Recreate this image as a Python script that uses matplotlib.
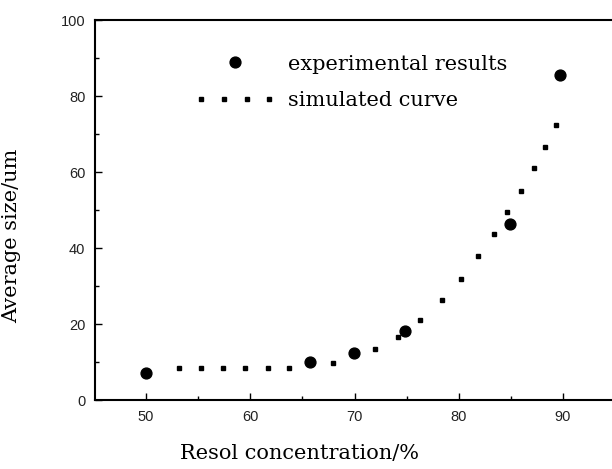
import matplotlib.pyplot as plt
from matplotlib.lines import Line2D
from matplotlib.legend_handler import HandlerLine2D
from matplotlib.ticker import MultipleLocator

# experimental points
exp_x = [50, 65.7, 69.9, 74.8, 84.9, 89.7]
exp_y = [7.0, 10.1, 12.3, 18.2, 46.3, 85.5]

# simulated curve, drawn as separate dots
sim_x = [53.2, 55.3, 57.4, 59.5, 61.7, 63.7, 67.9, 72.0, 74.2, 76.3, 78.4,
         80.2, 81.8, 83.4, 84.6, 86.0, 87.2, 88.3, 89.3]
sim_y = [8.3, 8.3, 8.3, 8.3, 8.3, 8.3, 9.8, 13.4, 16.7, 21.0, 26.3,
         31.8, 37.9, 43.6, 49.4, 55.0, 61.0, 66.7, 72.4]

xticks = [50, 60, 70, 80, 90]
yticks = [0, 20, 40, 60, 80, 100]

fig = plt.figure(figsize=(6.12, 4.69), dpi=100)
ax = fig.add_axes([95 / 612, 69 / 469, 517 / 612, 380 / 469])

ax.plot(exp_x, exp_y, 'o', color='black', markersize=7.8, zorder=3)
ax.plot(sim_x, sim_y, 's', color='black', markersize=2.6, zorder=2)

ax.set_xlim(45.1, 94.7)
ax.set_ylim(0, 100)
ax.set_xticks(xticks)
ax.set_yticks(yticks)
ax.xaxis.set_minor_locator(MultipleLocator(5))
ax.yaxis.set_minor_locator(MultipleLocator(10))
ax.tick_params(which='major', direction='in', length=5, width=1.0)
ax.tick_params(which='minor', direction='in', length=3, width=1.0)
ax.tick_params(labelsize=10.5, pad=7)
for lab in ax.get_xticklabels() + ax.get_yticklabels():
    lab.set_family('Liberation Sans')
    lab.set_color('#222222')
ax.spines['right'].set_visible(False)
for s in ['left', 'bottom', 'top']:
    ax.spines[s].set_linewidth(1.5)

serif = 'DejaVu Serif'
ax.set_xlabel('Resol concentration/%', family=serif, fontsize=15)
ax.xaxis.set_label_coords((299 - 95) / 517, -0.115)
ax.set_ylabel('Average size/um', family=serif, fontsize=15)
ax.yaxis.set_label_coords(-0.142, (400 - 236) / 380)

h1 = Line2D([], [], marker='o', color='black', markersize=7.8, linestyle='none')
h2 = Line2D([], [], marker='s', color='black', markersize=2.3, linestyle='none')
leg = ax.legend([h1, h2], ['experimental results', 'simulated curve'],
                loc='upper left', bbox_to_anchor=(0.157, 0.958), frameon=False,
                prop={'family': serif, 'size': 15}, handlelength=3.87,
                handletextpad=0.61, labelspacing=0.85,
                handler_map={h1: HandlerLine2D(numpoints=1),
                             h2: HandlerLine2D(numpoints=4)})

fig.savefig('out.png', dpi=100)
